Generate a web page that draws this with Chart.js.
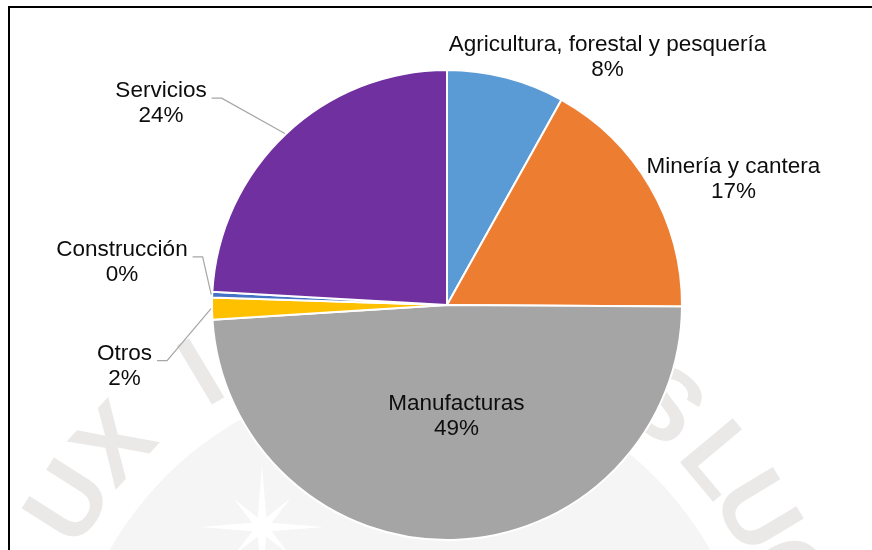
<!DOCTYPE html>
<html>
<head>
<meta charset="utf-8">
<script src="https://cdn.jsdelivr.net/npm/chart.js@4.4.1/dist/chart.umd.min.js"></script>
<style>
  html, body { margin: 0; padding: 0; background: #ffffff; }
  #wrap { position: relative; width: 872px; height: 550px; }
</style>
</head>
<body>
<div id="wrap"><canvas id="c"></canvas></div>
<script>
// Composition by sector (share of total, %)
const categories = ['Agricultura, forestal y pesquería', 'Minería y cantera', 'Manufacturas', 'Otros', 'Construcción', 'Servicios'];
const shares = [8.1, 17.0, 48.9, 1.5, 0.4, 24.1];

const sliceColors = ['#5B9BD5', '#ED7D31', '#A5A5A5', '#FFC000', '#4472C4', '#7030A0'];
// label centres, in units of the pie radius measured from the pie centre
const labelSpots = [[0.683, -1.053], [1.219, -0.534], [0.040, 0.474], [-1.372, 0.260], [-1.383, -0.181], [-1.217, -0.857]];
const withLeader = [false, false, false, true, true, true];

const FONT = '22.5px "Liberation Sans", Arial, sans-serif';
const LINE_GAP = 25;

// faint seal printed behind the page
const sealMotto = 'LUX IN TENEBRIS LUCET';
const sealAngles = [-158, -147.5, -137, null, -121, -110, null, -101, -94, -87, -80, -73, -66, -59, -51, null, -40, -31, -21, -11, -1];

const frame = {
  id: 'frame',
  beforeDraw(chart) {
    const ctx = chart.ctx;
    ctx.save();
    ctx.fillStyle = '#ffffff';
    ctx.fillRect(0, 0, chart.width, chart.height);

    // seal: pale inner disc, motto around it, white star
    const sx = 410, sy = 720;
    ctx.fillStyle = '#f5f5f5';
    ctx.beginPath();
    ctx.arc(sx, sy, 345, 0, Math.PI * 2);
    ctx.fill();
    ctx.fillStyle = '#ebe9e8';
    ctx.font = 'bold 100px "Liberation Sans", Arial, sans-serif';
    ctx.textAlign = 'center';
    ctx.textBaseline = 'middle';
    [...sealMotto].forEach((ch, i) => {
      const a = sealAngles[i];
      if (a === null) return;
      const t = a * Math.PI / 180;
      ctx.save();
      ctx.translate(sx + Math.cos(t) * 400, sy + Math.sin(t) * 400);
      ctx.rotate(t + Math.PI / 2);
      ctx.fillText(ch, 0, 0);
      ctx.restore();
    });
    ctx.fillStyle = '#ffffff';
    const starX = 262, starY = 527;
    for (let k = 0; k < 8; k++) {
      const t = k * Math.PI / 4;
      const len = k % 2 === 0 ? 62 : 40;
      ctx.save();
      ctx.translate(starX, starY);
      ctx.rotate(t);
      ctx.beginPath();
      ctx.moveTo(0, -5);
      ctx.lineTo(len, 0);
      ctx.lineTo(0, 5);
      ctx.closePath();
      ctx.fill();
      ctx.restore();
    }

    ctx.strokeStyle = '#000000';
    ctx.lineWidth = 2;
    ctx.strokeRect(9, 7, chart.width + 20, chart.height + 20);
    ctx.restore();
  }
};

const sliceLabels = {
  id: 'sliceLabels',
  afterDatasetsDraw(chart) {
    const ctx = chart.ctx;
    const meta = chart.getDatasetMeta(0);
    const data = chart.data.datasets[0].data;
    const total = data.reduce((a, b) => a + b, 0);
    ctx.save();
    ctx.font = FONT;
    ctx.fillStyle = '#0d0d0d';
    ctx.textAlign = 'center';
    ctx.textBaseline = 'middle';
    meta.data.forEach((arc, i) => {
      const p = arc.getProps(['x', 'y', 'startAngle', 'endAngle', 'outerRadius'], true);
      const r = p.outerRadius;
      const cx = p.x + labelSpots[i][0] * r;
      const cy = p.y + labelSpots[i][1] * r;
      const name = chart.data.labels[i];
      const pct = Math.round(data[i] / total * 100) + '%';
      ctx.fillText(name, cx, cy - LINE_GAP / 2);
      ctx.fillText(pct, cx, cy + LINE_GAP / 2);
      if (withLeader[i]) {
        const w = ctx.measureText(name).width;
        const sx = cx + w / 2 + 5;
        const sy = cy - LINE_GAP / 2 + 7;
        const mid = (p.startAngle + p.endAngle) / 2;
        const ex = p.x + Math.cos(mid) * (r + 1);
        const ey = p.y + Math.sin(mid) * (r + 1);
        ctx.beginPath();
        ctx.moveTo(sx, sy);
        ctx.lineTo(sx + 10, sy);
        ctx.lineTo(ex, ey);
        ctx.strokeStyle = '#a6a6a6';
        ctx.lineWidth = 1.2;
        ctx.stroke();
      }
    });
    ctx.restore();
  }
};

new Chart(document.getElementById('c'), {
  type: 'pie',
  data: {
    labels: categories,
    datasets: [{
      data: shares,
      backgroundColor: sliceColors,
      borderColor: '#ffffff',
      borderWidth: 2
    }]
  },
  options: {
    responsive: true,
    maintainAspectRatio: false,
    animation: false,
    radius: 235,
    layout: { padding: { left: 212, right: 190, top: 70, bottom: 10 } },
    plugins: {
      legend: { display: false },
      tooltip: { enabled: false }
    }
  },
  plugins: [frame, sliceLabels]
});
</script>
</body>
</html>
